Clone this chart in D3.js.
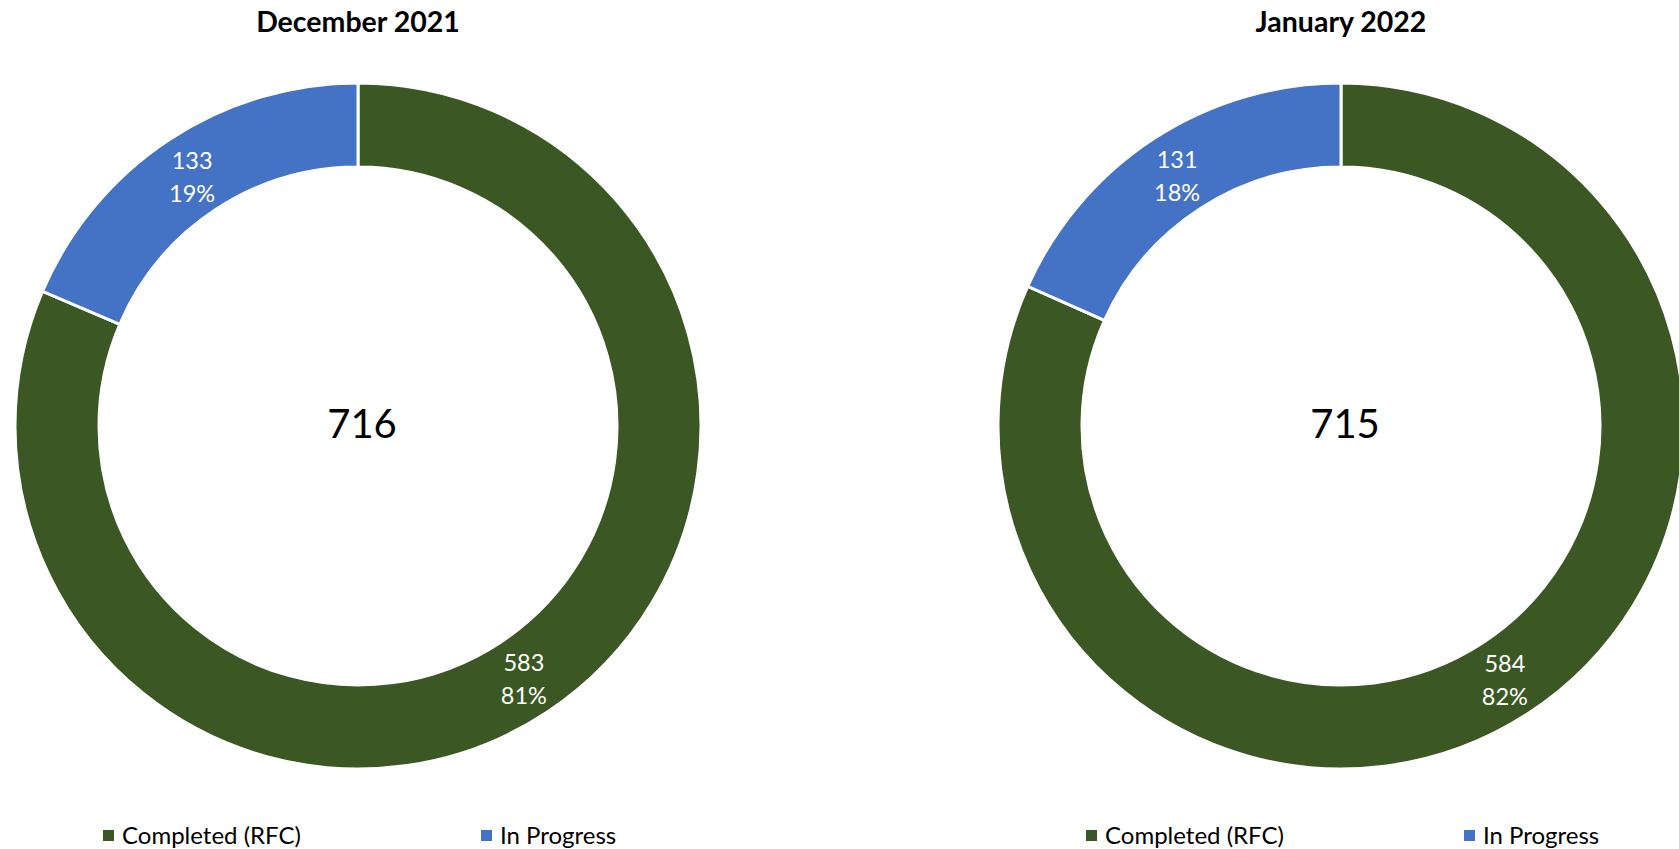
<!DOCTYPE html>
<html>
<head>
<meta charset="utf-8">
<script src="https://cdn.jsdelivr.net/npm/d3@7"></script>
<style>
  html, body { margin: 0; padding: 0; background: #fff; }
  svg { display: block; font-family: Lato, "Open Sans", sans-serif; }
</style>
</head>
<body>
<svg id="chart" width="1679" height="849"></svg>
<script>
// ---- data ----
const categories = ["Completed (RFC)", "In Progress"];
const months = ["December 2021", "January 2022"];
const completedValues = [583, 584];
const inProgressValues = [133, 131];
const totals = [716, 715];
const colors = ["#3A5724", "#4472C4"];

const W = 1679, H = 849;
const svg = d3.select("#chart");

const centersX = [358, 1341];
const cy = 426;
const outerR = 343, innerR = 259;

const pie = d3.pie().sort(null).value(d => d.value).startAngle(0).endAngle(2 * Math.PI);
const arc = d3.arc().innerRadius(innerR).outerRadius(outerR);
const color = d3.scaleOrdinal().domain(categories).range(colors);

months.forEach((m, i) => {
  const cx = centersX[i];
  const data = [
    { cat: categories[0], value: completedValues[i] },
    { cat: categories[1], value: inProgressValues[i] }
  ];
  const sum = d3.sum(data, d => d.value);
  const g = svg.append("g").attr("transform", `translate(${cx},${cy})`);
  const arcs = pie(data);

  g.selectAll("path.slice").data(arcs).enter().append("path")
    .attr("class", "slice")
    .attr("d", arc)
    .attr("fill", d => color(d.data.cat))
    .attr("stroke", "#fff")
    .attr("stroke-width", 3)
    .attr("stroke-linejoin", "miter");

  // data labels
  arcs.forEach(a => {
    const [x, y] = arc.centroid(a);
    const pct = Math.round(a.data.value / sum * 100) + "%";
    const t = g.append("text")
      .attr("text-anchor", "middle")
      .attr("fill", "#fff")
      .attr("font-size", 23.5);
    t.append("tspan").attr("x", x).attr("y", y - 16.5 + 10.5).text(a.data.value);
    t.append("tspan").attr("x", x).attr("y", y + 16.5 + 10.5).text(pct);
  });

  // center total
  g.append("text")
    .attr("x", 4).attr("y", 12)
    .attr("text-anchor", "middle")
    .attr("font-size", 40)
    .attr("fill", "#000")
    .text(totals[i]);

  // title
  svg.append("text")
    .attr("x", cx).attr("y", 32)
    .attr("text-anchor", "middle")
    .attr("font-size", 28.5)
    .attr("font-weight", "bold")
    .attr("fill", "#000")
    .text(m);

  // legend
  const legendOffsets = [-255, 123];
  categories.forEach((c, k) => {
    const lx = cx + legendOffsets[k];
    svg.append("rect")
      .attr("x", lx).attr("y", 830)
      .attr("width", 11).attr("height", 11)
      .attr("fill", color(c));
    svg.append("text")
      .attr("x", lx + 19).attr("y", 844)
      .attr("font-size", 24)
      .attr("fill", "#000")
      .text(c);
  });
});
</script>
</body>
</html>
